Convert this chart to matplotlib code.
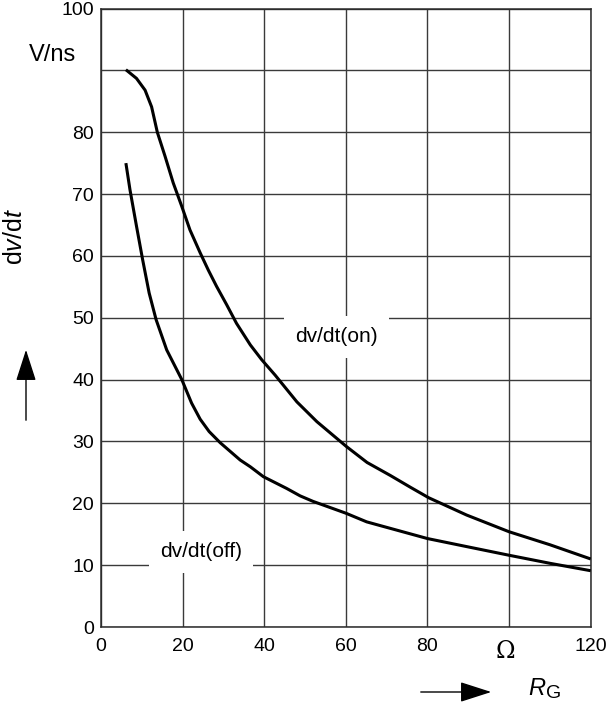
import matplotlib
matplotlib.use("Agg")
import matplotlib.pyplot as plt

plt.rcParams['font.family'] = ['Liberation Sans', 'DejaVu Sans']
plt.rcParams['mathtext.fontset'] = 'custom'
plt.rcParams['mathtext.rm'] = 'Liberation Sans'
plt.rcParams['mathtext.it'] = 'Liberation Sans:italic'

# dv/dt(on) curve
on_rg = [6.1, 8.7, 10.8, 12.4, 13.8, 15.7, 17.7, 19.8, 21.8, 24.3, 26.3, 28.3,
         30.8, 33.2, 36.6, 39.4, 42.7, 48.0, 52.9, 60.1, 65.2, 70.9, 75.8, 80.3,
         89.6, 100.0, 110.0, 120.0]
on_dvdt = [90.1, 88.7, 86.8, 84.1, 80.0, 76.1, 71.8, 68.0, 64.2, 60.5, 57.7, 55.1,
           52.1, 49.1, 45.6, 43.2, 40.7, 36.4, 33.2, 29.2, 26.6, 24.5, 22.6, 20.9,
           18.1, 15.4, 13.3, 11.0]

# dv/dt(off) curve
off_rg = [6.1, 7.1, 8.7, 10.2, 11.8, 13.5, 16.1, 19.8, 22.2, 24.3, 26.5, 29.2, 34.1,
          36.6, 39.8, 45.5, 48.8, 52.0, 60.0, 65.1, 68.4, 80.0, 89.6, 100.0,
          110.0, 120.0]
off_dvdt = [75.0, 70.7, 64.8, 59.4, 54.0, 49.7, 44.8, 40.0, 36.2, 33.6, 31.6, 29.8, 27.0,
            25.9, 24.3, 22.4, 21.2, 20.3, 18.4, 17.0, 16.4, 14.3, 13.0, 11.6,
            10.3, 9.1]

x_ticks = [0, 20, 40, 60, 80, 100, 120]
x_labels = ['0', '20', '40', '60', '80', '', '120']
y_ticks = [0, 10, 20, 30, 40, 50, 60, 70, 80, 90, 100]
y_labels = ['0', '10', '20', '30', '40', '50', '60', '70', '80', '', '100']

W, H = 609, 704
fig = plt.figure(figsize=(W / 100, H / 100), dpi=100)
ax = fig.add_axes([101 / W, 1 - 627 / H, (590.7 - 101) / W, (627 - 8.5) / H])

ax.plot(on_rg, on_dvdt, color='black', lw=2.2, solid_capstyle='butt',
        solid_joinstyle='round', zorder=5)
ax.plot(off_rg, off_dvdt, color='black', lw=2.2, solid_capstyle='butt',
        solid_joinstyle='round', zorder=5)

ax.set_xlim(0, 120)
ax.set_ylim(0, 100)
ax.set_xticks(x_ticks)
ax.set_xticklabels(x_labels)
ax.set_yticks(y_ticks)
ax.set_yticklabels(y_labels)
ax.tick_params(length=0, labelsize=14)
ax.tick_params(axis='x', pad=8)
ax.tick_params(axis='y', pad=5)
ax.grid(True, color='#3a3a3a', lw=1.0)
ax.set_axisbelow(True)
for s in ax.spines.values():
    s.set_color('#2a2a2a')
    s.set_linewidth(1.1)

ax.text(57.7, 46.9, 'dv/dt(on)', fontsize=15, ha='center', va='center', zorder=4,
        bbox=dict(boxstyle='square,pad=0.55', fc='white', ec='none'))
ax.text(24.5, 12.2, 'dv/dt(off)', fontsize=15, ha='center', va='center', zorder=4,
        bbox=dict(boxstyle='square,pad=0.55', fc='white', ec='none'))

# unit and symbol labels
fig.text(76 / W, 1 - 55 / H, 'V/ns', fontsize=17, ha='right', va='center')
fig.text(505 / W, 1 - 651 / H, 'Ω', fontsize=17, ha='center', va='center',
         family=['DejaVu Serif', 'Liberation Serif'])
fig.text(15 / W, 1 - 236 / H, r'd$\it{v}$/d$\it{t}$', fontsize=18, rotation=90,
         ha='center', va='center')
fig.text(546 / W, 1 - 689 / H, r'$\it{R}$', fontsize=17, ha='right', va='center')
fig.text(546 / W, 1 - 694 / H, 'G', fontsize=14, ha='left', va='center')

# arrows
fig.patches.append(matplotlib.patches.FancyArrowPatch(
    (26 / W, 1 - 423 / H), (26 / W, 1 - 347 / H), transform=fig.transFigure,
    arrowstyle='-|>,head_length=1.4,head_width=0.45', mutation_scale=14,
    color='black', lw=1.0))
fig.patches.append(matplotlib.patches.FancyArrowPatch(
    (418 / W, 1 - 692 / H), (494 / W, 1 - 692 / H), transform=fig.transFigure,
    arrowstyle='-|>,head_length=1.4,head_width=0.45', mutation_scale=14,
    color='black', lw=1.0))

fig.savefig('out.png', dpi=100)
